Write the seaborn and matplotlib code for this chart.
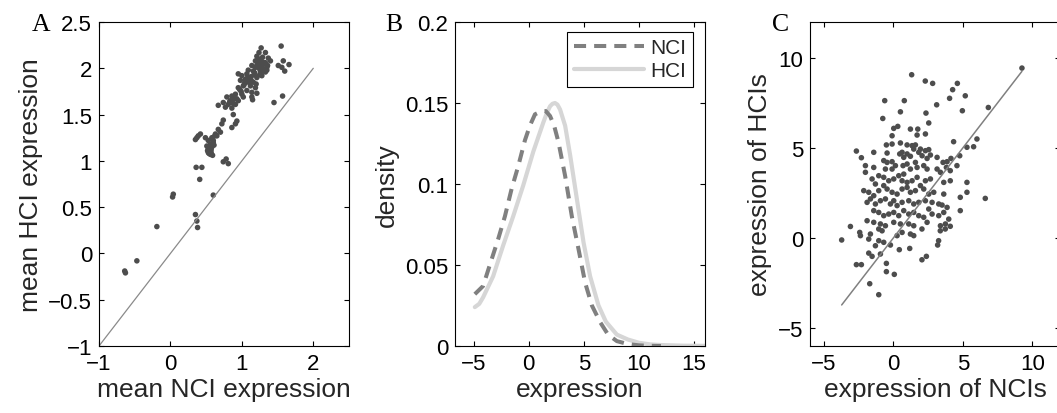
import numpy as np
import pandas as pd
import matplotlib
matplotlib.use("Agg")
import matplotlib.pyplot as plt
import seaborn as sns

# ---- panel A : mean expression per gene (NCI vs HCI) ----
a_nci = [-0.64, -0.63, -0.47, -0.19, 0.03, 0.04, 0.35, 0.37, 0.38, 0.41, 0.36, 0.44, 0.60, 0.74, 0.81,
         1.27, 1.55, 1.24, 1.33, 1.21, 1.29, 1.37, 1.19, 1.26, 1.33, 1.40, 1.58, 1.51, 1.56, 1.66, 1.60,
         1.14, 1.21, 1.28, 1.35, 1.09, 1.16, 1.26, 1.33, 1.07, 0.95, 1.00, 1.13, 1.21, 1.28, 1.05, 1.09,
         1.16, 0.98, 1.02, 1.12, 1.19, 0.95, 1.07, 1.14, 1.21, 0.91, 1.00, 0.86, 0.79, 0.84, 0.93, 1.02,
         1.14, 1.15, 0.74, 0.67, 0.81, 0.91, 0.95, 0.77, 0.86, 1.45, 1.57, 0.88, 0.74, 0.72, 0.93, 0.91,
         0.86, 0.67, 0.70, 0.63, 0.58, 0.65, 0.42, 0.39, 0.37, 0.35, 0.49, 0.53, 0.56, 0.58, 0.51, 0.53,
         0.53, 0.56, 0.52, 0.60, 0.78, 0.55, 0.57, 0.54, 0.59, 0.56, 0.60, 0.62, 1.24, 1.30, 1.18, 1.10,
         1.31, 1.23, 1.04, 0.97, 0.89, 1.35, 1.25, 1.20, 1.11, 1.22, 1.27, 1.32, 1.17, 1.03, 0.99, 1.08,
         1.25, 1.30, 1.19, 0.83, 0.88, 0.55, 0.57, 0.61, 1.36, 1.29, 1.13]
a_hci = [-0.19, -0.21, -0.08, 0.29, 0.61, 0.64, 0.42, 0.35, 0.28, 0.80, 0.93, 0.93, 0.63, 0.99, 0.97,
         2.22, 2.24, 2.17, 2.17, 2.13, 2.12, 2.11, 2.08, 2.08, 2.06, 2.08, 2.08, 2.03, 2.01, 2.04, 1.97,
         2.03, 2.03, 2.02, 2.01, 1.98, 1.97, 1.97, 1.96, 1.94, 1.94, 1.92, 1.91, 1.90, 1.92, 1.88, 1.85,
         1.85, 1.87, 1.81, 1.81, 1.79, 1.79, 1.76, 1.74, 1.73, 1.72, 1.72, 1.70, 1.69, 1.65, 1.67, 1.69,
         1.69, 1.66, 1.63, 1.60, 1.61, 1.61, 1.65, 1.58, 1.57, 1.63, 1.70, 1.50, 1.44, 1.40, 1.43, 1.40,
         1.36, 1.34, 1.31, 1.29, 1.25, 1.27, 1.29, 1.27, 1.25, 1.23, 1.25, 1.22, 1.18, 1.15, 1.16, 1.13,
         1.09, 1.07, 1.11, 1.20, 1.02, 1.10, 1.12, 1.08, 1.06, 1.14, 1.22, 1.27, 2.00, 1.99, 1.95, 1.88,
         2.05, 2.10, 1.84, 1.77, 1.67, 1.98, 1.93, 1.83, 1.86, 2.06, 2.00, 2.05, 1.93, 1.82, 1.75, 1.90,
         2.04, 1.97, 2.01, 1.64, 1.62, 1.11, 1.09, 1.17, 2.03, 2.07, 1.87]
diag_a = [-1, 2]

# ---- panel B : densities ----
nci_x = [-4.9, -4.15, -3.54, -2.78, -2.17, -1.56, -0.96, -0.35, 0.1, 0.56, 1.17, 1.55, 1.93, 2.3, 2.69,
         3.30, 3.91, 4.51, 5.12, 5.73, 6.49, 7.2, 8.0, 9.0, 10.0, 11.0, 12.0]
nci_y = [0.032, 0.037, 0.050, 0.066, 0.080, 0.097, 0.111, 0.127, 0.136, 0.143, 0.145, 0.145, 0.142,
         0.136, 0.126, 0.105, 0.080, 0.060, 0.039, 0.025, 0.0146, 0.007, 0.003, 0.0012, 0.0004,
         0.0001, 0.0]
hci_x = [-4.9, -4.5, -4.15, -3.24, -2.33, -1.42, -0.51, 0.41, 1.32, 1.65, 1.93, 2.15, 2.38, 2.6, 2.84,
         3.30, 3.75, 4.36, 4.97, 5.57, 6.33, 7.0, 8.0, 9.0, 10.0, 11.0, 12.0, 14.0, 16.0]
hci_y = [0.024, 0.026, 0.030, 0.043, 0.062, 0.080, 0.099, 0.120, 0.138, 0.144, 0.148, 0.1495, 0.150,
         0.149, 0.146, 0.136, 0.118, 0.091, 0.064, 0.043, 0.025, 0.015, 0.007, 0.004, 0.002, 0.001,
         0.0006, 0.0002, 0.0001]

# ---- panel C : per-individual expression ----
c_nci = [1.32, 2.30, 2.83, 4.61, 4.27, 5.18, 4.05, -0.62, 0.79, 3.12, 6.84, 4.97, 0.51, 2.35, -0.76,
         9.26, 6.02, 5.78, -2.66, 6.62, -3.09, -2.30,
         -2.42, -1.65, -0.81, 0.27, 0.63, 1.23, 3.38, -3.72, -2.37, -1.77, -1.05, -0.69, 1.47, 3.26,
         -1.29, -0.21, 1.18, 0.43, 3.19, -1.77, -1.53, -0.93, 2.06, 2.38, -2.66, -2.30, -0.50, -0.50,
         0.07, -1.70, -1.05, 2.06, 3.74, -1.05,
         0.03, 0.32, 1.23, 1.76, 2.55, -0.09, 1.71, 2.31, 4.34,
         -0.50, -0.09, 0.51, -1.41, -0.45, 0.99, 1.35, 1.59, 1.47, 1.95, 2.31, 2.55,
         0.46, 0.63, 0.99, 0.75, 1.23, 1.83, 2.07, 2.43, 2.67, 3.15, 3.58, 3.87, 4.15, 4.78, 5.30,
         -2.01, -1.41, -2.01, -0.69, -0.45, -0.09, 0.15, -0.57, -0.09,
         0.70, 0.99, 1.23, 1.59, 1.71, 2.19, 2.43, 3.15, 3.39, 3.82, 4.10, 4.58,
         -1.53, -1.05, -0.69, -1.29, -0.33, 0.03, 0.39, 0.75, 0.63, 0.99, 1.35, 1.71,
         1.95, 2.31, 2.67, 3.63, 4.10, 5.30,
         -2.13, -1.77, -1.41, -1.05, -0.69, -0.45, -0.09, 0.27, 0.63, 0.99, 1.23, 1.59,
         2.19, 2.55, 2.91, 3.63, 4.82, 5.30,
         -1.89, -1.65, -1.29, -0.93, -0.57, -0.21, 0.03, 0.27, 0.63, 1.11, 1.47, 1.83,
         2.31, 2.79, 3.27, 3.51, 3.87,
         -1.41, -1.05, -0.69, -0.33, 0.03, 0.39, 0.75, 1.11, 1.47, 1.83, 2.19,
         2.55, 2.79, 3.27, 3.63, 3.99, 4.82,
         -1.89, -1.41, -0.93, -0.57, 0.03, 0.51, 1.11, 1.47, 2.43, 3.39, 3.75, 4.10]
c_hci = [9.07, 8.72, 8.59, 8.59, 8.24, 7.90, 7.76, 7.63, 7.63, 7.40, 7.25, 7.07, 7.01, 6.94, 6.64,
         9.44, 5.50, 5.07, 4.83, 2.20, 0.64, 4.46,
         0.31, 0.22, 0.40, 0.13, 0.31, 0.22, 0.40, -0.11, 0.13, -0.06, -0.15, -0.24, 0.13, -0.15,
         -0.43, -0.39, -0.58, -0.65, -0.39, -0.84, -1.02, -0.89, -1.21, -1.02, -1.48, -1.48, -1.41, -1.87,
         -2.02, -2.54, -3.15, 0.50, 0.50, 0.50,
         6.09, 6.20, 6.05, 6.05, 6.39, 5.68, 5.72, 5.78, 5.35,
         5.17, 5.22, 5.28, 4.76, 4.72, 5.17, 5.13, 5.17, 4.94, 4.94, 4.85, 4.91,
         4.67, 4.76, 4.67, 4.48, 4.54, 4.76, 4.57, 4.42, 4.61, 4.48, 4.20, 4.24, 4.42, 4.57, 5.04,
         4.02, 3.92, 3.65, 4.30, 4.20, 4.24, 4.02, 3.83, 3.83,
         4.02, 4.11, 3.83, 4.20, 3.92, 4.02, 3.83, 3.83, 3.65, 3.92, 3.74, 4.02,
         3.28, 3.46, 3.37, 3.00, 3.18, 3.28, 3.46, 3.55, 3.18, 3.09, 3.18, 3.37,
         2.91, 3.18, 3.28, 3.09, 3.18, 3.09,
         2.63, 2.54, 2.35, 2.63, 2.91, 2.72, 2.54, 2.44, 2.72, 2.81, 2.54, 2.63,
         2.72, 2.44, 2.54, 2.44, 2.26, 2.54,
         1.98, 2.17, 1.89, 2.07, 2.17, 1.89, 2.07, 1.80, 1.98, 2.07, 1.89, 1.98,
         2.07, 1.98, 1.89, 1.83, 1.70,
         1.52, 1.42, 1.24, 1.33, 1.42, 1.24, 1.52, 1.33, 1.42, 1.24, 1.15,
         1.61, 1.33, 1.24, 1.42, 1.05, 1.52,
         0.96, 0.87, 0.78, 0.68, 0.87, 0.78, 0.78, 0.68, 0.87, 0.68, 0.78, 0.65]

sns.set_theme(style="ticks")
plt.rcParams["font.family"] = ["Liberation Sans", "DejaVu Sans"]
plt.rcParams["axes.unicode_minus"] = True

W, H = 1057, 414
fig = plt.figure(figsize=(W / 100, H / 100), dpi=100)


def box(left, top, w=250, h=324):
    return fig.add_axes([left / W, (H - top - h) / H, w / W, h / H])


def fmt(v, p):
    return ("%g" % v).replace("-", "\u2212")


def style(ax):
    for s in ax.spines.values():
        s.set_linewidth(0.8)
        s.set_color("black")
    ax.tick_params(direction="in", top=True, right=True, length=3.5, width=0.8,
                   labelsize=16, colors="black", pad=5)
    ax.xaxis.set_major_formatter(plt.FuncFormatter(fmt))
    ax.yaxis.set_major_formatter(plt.FuncFormatter(fmt))


dot = "#4d4d4d"
lab = 19

# A
ax1 = box(99, 23)
sns.lineplot(x=diag_a, y=diag_a, ax=ax1, color="#8a8a8a", lw=0.9)
sns.scatterplot(x=a_nci, y=a_hci, ax=ax1, color=dot, s=16, edgecolor="none")
ax1.set_xlim(-1, 2.5)
ax1.set_ylim(-1, 2.5)
ax1.set_xticks([-1, 0, 1, 2])
ax1.set_yticks([-1, -0.5, 0, 0.5, 1, 1.5, 2, 2.5])
ax1.set_xlabel("mean NCI expression", fontsize=lab, labelpad=2)
ax1.set_ylabel("mean HCI expression", fontsize=lab, labelpad=4)
style(ax1)

# B
ax2 = box(455, 23)
dfb = pd.DataFrame({"x": nci_x + hci_x, "y": nci_y + hci_y,
                    "group": ["NCI"] * len(nci_x) + ["HCI"] * len(hci_x)})
sns.lineplot(data=dfb[dfb.group == "HCI"], x="x", y="y", ax=ax2, color="#d6d6d6", lw=3.0,
             label="HCI", zorder=2)
sns.lineplot(data=dfb[dfb.group == "NCI"], x="x", y="y", ax=ax2, color="#808080", lw=2.9,
             linestyle=(0, (3.0, 2.0)), label="NCI", zorder=3)
ax2.set_xlim(-6.7, 16)
ax2.set_ylim(0, 0.2)
ax2.set_xticks([-5, 0, 5, 10, 15])
ax2.set_yticks([0, 0.05, 0.1, 0.15, 0.2])
ax2.set_xlabel("expression", fontsize=lab, labelpad=2)
ax2.set_ylabel("density", fontsize=lab, labelpad=4)
style(ax2)
hd, lb = ax2.get_legend_handles_labels()
leg = ax2.legend(hd[::-1], lb[::-1], loc="upper right", fontsize=15, frameon=True, fancybox=False,
                 edgecolor="black", framealpha=1, handlelength=3.4, handletextpad=0.3,
                 borderpad=0.3, labelspacing=0.2, borderaxespad=0,
                 bbox_to_anchor=(0.952, 0.969))
leg.get_frame().set_linewidth(0.8)

# C
ax3 = box(810, 23)
line_c = [min(c_nci), max(c_nci)]
sns.lineplot(x=line_c, y=line_c, ax=ax3, color="#808080", lw=1.1)
sns.scatterplot(x=c_nci, y=c_hci, ax=ax3, color=dot, s=16, edgecolor="none")
ax3.set_xlim(-6, 12)
ax3.set_ylim(-6, 12)
ax3.set_xticks([-5, 0, 5, 10])
ax3.set_yticks([-5, 0, 5, 10])
ax3.set_xlabel("expression of NCIs", fontsize=lab, labelpad=2)
ax3.set_ylabel("expression of HCIs", fontsize=lab, labelpad=4)
style(ax3)

for x, t in [(32, "A"), (385, "B"), (772, "C")]:
    fig.text(x / W, 1 - 31 / H, t, fontsize=18.5, family=["Liberation Serif", "DejaVu Serif"],
             color="black")

fig.savefig("out.png", dpi=100)
